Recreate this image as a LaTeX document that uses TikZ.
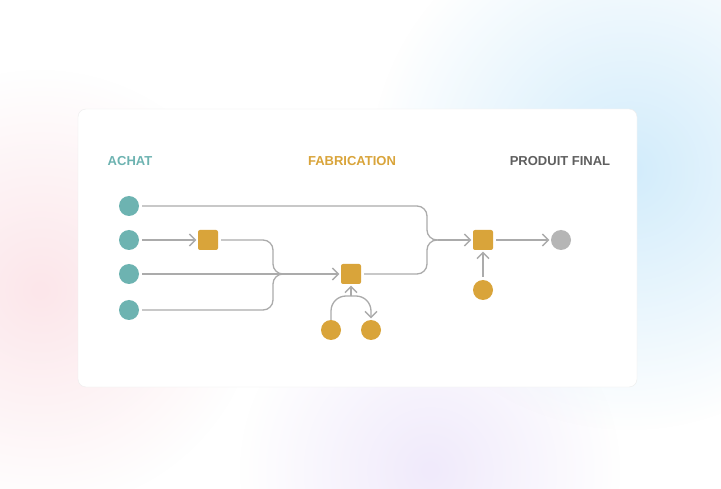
\documentclass[tikz,border=0pt]{standalone}
\usepackage{fontspec}
\setmainfont{Liberation Sans}
\usetikzlibrary{arrows.meta, positioning, calc, fadings}
\definecolor{Teal}{HTML}{6DB3B1}
\definecolor{Gold}{HTML}{D9A43A}
\definecolor{Ash}{HTML}{B5B5B5}
\definecolor{Wire}{HTML}{ABABAB}
\definecolor{Ink}{HTML}{5F5F5F}
\definecolor{SkyGlow}{HTML}{D2ECFB}
\definecolor{RoseGlow}{HTML}{FCE6EA}
\definecolor{LilacGlow}{HTML}{F0EAFB}
\tikzfading[name=glow, inner color=transparent!0, outer color=transparent!100]

\begin{document}
\begin{tikzpicture}[x=1pt, y=-1pt,
        raw/.style={circle, fill=Teal, minimum size=20pt, inner sep=0pt},
        part/.style={circle, fill=Gold, minimum size=20pt, inner sep=0pt},
        done/.style={circle, fill=Ash, minimum size=20pt, inner sep=0pt},
        block/.style={rectangle, fill=Gold, minimum size=20pt, inner sep=0pt, rounded corners=2pt},
        title/.style={font=\bfseries\fontsize{13}{15}\selectfont},
        wire/.style={draw=Wire, line width=1.3pt, rounded corners=10pt},
        gap/.style={shorten <=3pt},
        arrow/.style={wire, -{Straight Barb[length=6pt,width=12pt]}, shorten >=1.5pt}
    ]
        \useasboundingbox (0,0) rectangle (721,489);
        \fill[white] (0,0) rectangle (721,489);
        \fill[RoseGlow, path fading=glow] (40,290) circle (220);
        \fill[LilacGlow, path fading=glow] (430,470) circle (190);
        \fill[SkyGlow, path fading=glow] (630,170) circle (260);
        \draw[draw=black!7, fill=white, rounded corners=8pt] (78,109) rectangle (637,387);

        \node[title, text=Teal] (achat) at (130,161) {ACHAT};
        \node[title, text=Gold] (fabrication) at (352,161) {FABRICATION};
        \node[title, text=Ink] (produit) at (560,161) {PRODUIT FINAL};

        \node[raw] (a1) at (129,206) {};
        \node[raw] (a2) at (129,240) {};
        \node[raw] (a3) at (129,274) {};
        \node[raw] (a4) at (129,310) {};
        \node[block] (m1) at (208,240) {};
        \node[block] (m2) at (351,274) {};
        \node[block] (m3) at (483,240) {};
        \node[part] (p1) at (331,330) {};
        \node[part] (p2) at (371,330) {};
        \node[part] (p3) at (483,290) {};
        \node[done] (out) at (561,240) {};
        \coordinate (j1) at (287,274);
        \coordinate (j2) at (438,240);
        \coordinate (j3) at (351,296);

        \draw[arrow, gap] (a2) -- (m1);
        \draw[arrow, gap] (a3) -- (m2);
        \draw[wire, gap] (m1) -| ([xshift=-14pt]j1) -- (j1);
        \draw[wire, gap] (a4) -| ([xshift=-14pt]j1) -- (j1);
        \draw[wire, gap] (a1) -| ([xshift=-11pt]j2) -- (j2);
        \draw[wire, gap] (m2) -| ([xshift=-11pt]j2) -- (j2);
        \draw[arrow] (j2) -- (m3);
        \draw[arrow, gap] (m3) -- (out);
        \draw[arrow, gap] (p3) -- (m3);
        \draw[wire, rounded corners=15pt] (p1) |- (j3);
        \draw[arrow] (j3) -- (m2);
        \draw[arrow, rounded corners=15pt] (j3) -| (p2);
    \end{tikzpicture}
\end{document}
